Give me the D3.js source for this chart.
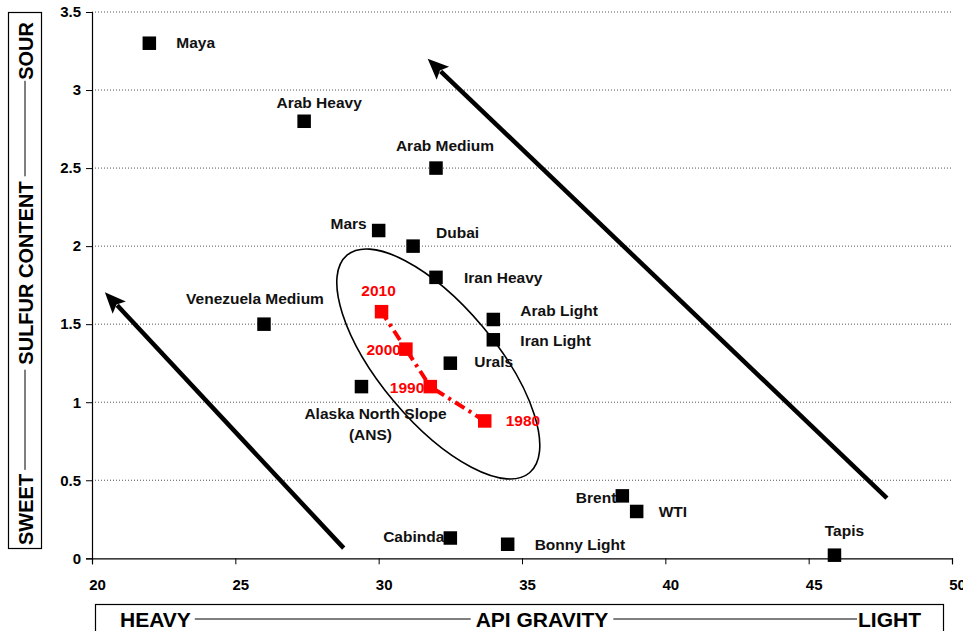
<!DOCTYPE html>
<html>
<head>
<meta charset="utf-8">
<script src="https://cdn.jsdelivr.net/npm/d3@7"></script>
<style>
  body { margin: 0; background: #fff; }
  svg { display: block; }
  text { font-family: "Liberation Sans", Arial, sans-serif; font-weight: bold; }
</style>
</head>
<body>
<svg id="chart" width="963" height="631"></svg>
<script>
// Crude oils: API gravity vs sulfur content (%)
const crudeNames = ["Maya", "Arab Heavy", "Arab Medium", "Mars", "Dubai", "Iran Heavy",
  "Venezuela Medium", "Arab Light", "Iran Light", "Urals", "Alaska North Slope", "Brent",
  "WTI", "Cabinda", "Bonny Light", "Tapis"];
const apiGravity = [22.0, 27.4, 32.0, 30.0, 31.2, 32.0, 26.0, 34.0, 34.0, 32.5, 29.4, 38.5, 39.0, 32.5, 34.5, 45.9];
const sulfurPct = [3.3, 2.8, 2.5, 2.1, 2.0, 1.8, 1.5, 1.53, 1.4, 1.25, 1.1, 0.4, 0.3, 0.13, 0.09, 0.02];

// Average refinery crude slate over time (red series)
const years = [1980, 1990, 2000, 2010];
const yearGravity = [33.7, 31.8, 30.95, 30.1];
const yearSulfur = [0.88, 1.1, 1.34, 1.58];

// Axis ticks
const xTicks = [20, 25, 30, 35, 40, 45, 50];
const yTicks = [0, 0.5, 1, 1.5, 2, 2.5, 3, 3.5];

// label placement (px offsets from the marker)
const labelPlace = {
  "Maya": ["start", 27, 5],
  "Arab Heavy": ["middle", 15, -13],
  "Arab Medium": ["middle", 9, -17],
  "Mars": ["end", -12, -2],
  "Dubai": ["start", 23, -8],
  "Iran Heavy": ["start", 28, 6],
  "Venezuela Medium": ["middle", -9, -20],
  "Arab Light": ["start", 27, -3],
  "Iran Light": ["start", 27, 6],
  "Urals": ["start", 24, 4],
  "Alaska North Slope": ["middle", 14, 32],
  "Brent": ["end", -6, 7],
  "WTI": ["start", 22, 6],
  "Cabinda": ["end", -6, 4],
  "Bonny Light": ["start", 27, 6],
  "Tapis": ["middle", 10, -19]
};
const yearPlace = {
  2010: ["middle", -3, -16],
  2000: ["end", -5, 6],
  1990: ["end", -6, 6],
  1980: ["start", 21, 5]
};

const svg = d3.select("#chart");
const plotLeft = 92, plotTop = 12, plotRight = 952, plotBottom = 558.3;

const x = d3.scaleLinear().domain([20, 50]).range([plotLeft, plotRight]);
const y = d3.scaleLinear().domain([0, 3.5]).range([plotBottom, plotTop]);

// gridlines
svg.append("g")
  .selectAll("line")
  .data(yTicks.filter(d => d > 0))
  .join("line")
  .attr("x1", plotLeft).attr("x2", plotRight)
  .attr("y1", d => y(d)).attr("y2", d => y(d))
  .attr("stroke", "#555")
  .attr("stroke-width", 1)
  .attr("stroke-dasharray", "1,2");

// axes
const yAxis = svg.append("g")
  .attr("transform", `translate(${plotLeft},0)`)
  .call(d3.axisLeft(y).tickValues(yTicks).tickFormat(d3.format("")).tickSize(6).tickPadding(5));
const xAxis = svg.append("g")
  .attr("transform", `translate(0,${plotBottom})`)
  .call(d3.axisBottom(x).tickValues(xTicks).tickSize(6).tickPadding(15));
[yAxis, xAxis].forEach(g => {
  g.select(".domain").attr("stroke", "#000").attr("stroke-width", 1.2);
  g.selectAll(".tick line").attr("stroke", "#000");
  g.selectAll("text")
    .attr("fill", "#000")
    .style("font-size", "15px")
    .style("font-family", "'Liberation Sans', Arial, sans-serif")
    .style("font-weight", "bold");
});
xAxis.selectAll(".tick text").attr("dx", 5);

// ellipse around the slate markers (center in data units)
const ellipseCenter = [32.08, 1.245];
svg.append("ellipse")
  .attr("cx", 0).attr("cy", 0)
  .attr("rx", 142).attr("ry", 58)
  .attr("transform", `translate(${x(ellipseCenter[0])},${y(ellipseCenter[1])}) rotate(50)`)
  .attr("fill", "none")
  .attr("stroke", "#000")
  .attr("stroke-width", 1.6);

// big arrows (tail -> tip, data units)
const arrows = [
  [[28.78, 0.065], [20.45, 1.705]],
  [[47.73, 0.385], [31.71, 3.2]]
];
arrows.forEach(([from, to]) => {
  const x0 = x(from[0]), y0 = y(from[1]), x1 = x(to[0]), y1 = y(to[1]);
  const ang = Math.atan2(y1 - y0, x1 - x0);
  const headLen = 21, headW = 9;
  const bx = x1 - headLen * Math.cos(ang), by = y1 - headLen * Math.sin(ang);
  svg.append("line")
    .attr("x1", x0).attr("y1", y0)
    .attr("x2", bx + 3 * Math.cos(ang)).attr("y2", by + 3 * Math.sin(ang))
    .attr("stroke", "#000")
    .attr("stroke-width", 4.5);
  const px = -Math.sin(ang), py = Math.cos(ang);
  svg.append("polygon")
    .attr("points", [
      [x1, y1],
      [bx + headW * px, by + headW * py],
      [bx + 4 * Math.cos(ang), by + 4 * Math.sin(ang)],
      [bx - headW * px, by - headW * py]
    ].map(p => p.join(",")).join(" "))
    .attr("fill", "#000");
});

// crude markers
const sq = 13.5;
const crudes = crudeNames.map((name, i) => ({ name, api: apiGravity[i], s: sulfurPct[i] }));
svg.append("g")
  .selectAll("rect")
  .data(crudes)
  .join("rect")
  .attr("x", d => x(d.api) - sq / 2)
  .attr("y", d => y(d.s) - sq / 2)
  .attr("width", sq).attr("height", sq)
  .attr("fill", "#000");

const labels = svg.append("g")
  .selectAll("text")
  .data(crudes)
  .join("text")
  .attr("x", d => x(d.api) + labelPlace[d.name][1])
  .attr("y", d => y(d.s) + labelPlace[d.name][2])
  .attr("text-anchor", d => labelPlace[d.name][0])
  .style("font-size", "15.5px")
  .attr("fill", "#111")
  .text(d => d.name);
// ANS gets a second line
labels.filter(d => d.name === "Alaska North Slope")
  .append("tspan")
  .attr("x", d => x(d.api) + 9)
  .attr("dy", 21)
  .text("(ANS)");

// red dash-dot line + markers
const slate = years.map((yr, i) => ({ yr, api: yearGravity[i], s: yearSulfur[i] }));
svg.append("path")
  .datum(slate)
  .attr("d", d3.line().x(d => x(d.api)).y(d => y(d.s)))
  .attr("fill", "none")
  .attr("stroke", "#ff0000")
  .attr("stroke-width", 4)
  .attr("stroke-dasharray", "11,5,3,5");
svg.append("g")
  .selectAll("rect")
  .data(slate)
  .join("rect")
  .attr("x", d => x(d.api) - sq / 2)
  .attr("y", d => y(d.s) - sq / 2)
  .attr("width", sq).attr("height", sq)
  .attr("fill", "#ff0000");
svg.append("g")
  .selectAll("text")
  .data(slate)
  .join("text")
  .attr("x", d => x(d.api) + yearPlace[d.yr][1])
  .attr("y", d => y(d.s) + yearPlace[d.yr][2])
  .attr("text-anchor", d => yearPlace[d.yr][0])
  .attr("fill", "#ff0000")
  .style("font-size", "15.5px")
  .text(d => d.yr);

// boxed axis titles with connecting rules
function titleRow(g, words, starts, lineY) {
  // words: [leftText, midText, rightText]; starts: [leftStart, midCenter, rightEnd]
  const t0 = g.append("text").attr("x", starts[0]).attr("text-anchor", "start").text(words[0]);
  const t1 = g.append("text").attr("x", starts[1]).attr("text-anchor", "middle").text(words[1]);
  const t2 = g.append("text").attr("x", starts[2]).attr("text-anchor", "end").text(words[2]);
  const w0 = t0.node().getComputedTextLength();
  const w1 = t1.node().getComputedTextLength();
  const w2 = t2.node().getComputedTextLength();
  const segs = [
    [starts[0] + w0 + 4, starts[1] - w1 / 2 - 5],
    [starts[1] + w1 / 2 + 5, starts[2] - w2 - 1]
  ];
  segs.forEach(([a, b]) => {
    g.append("line").attr("x1", a).attr("x2", b)
      .attr("y1", lineY).attr("y2", lineY)
      .attr("stroke", "#000").attr("stroke-width", 1);
  });
}

// x title box (runs off the bottom edge)
svg.append("rect")
  .attr("x", 95.5).attr("y", 604.5)
  .attr("width", 848).attr("height", 40)
  .attr("fill", "none").attr("stroke", "#000").attr("stroke-width", 1.2);
const xt = svg.append("g").attr("transform", "translate(0,627)").style("font-size", "21px");
titleRow(xt, ["HEAVY", "API GRAVITY", "LIGHT"], [120, 542, 921], -8);

// y title box
svg.append("rect")
  .attr("x", 8.5).attr("y", 12.5)
  .attr("width", 33).attr("height", 536)
  .attr("fill", "none").attr("stroke", "#000").attr("stroke-width", 1.2);
const yt = svg.append("g").attr("transform", "translate(33,0) rotate(-90)").style("font-size", "20px");
titleRow(yt, ["SWEET", "SULFUR CONTENT", "SOUR"], [-545, -273, -22], -8);
</script>
</body>
</html>
